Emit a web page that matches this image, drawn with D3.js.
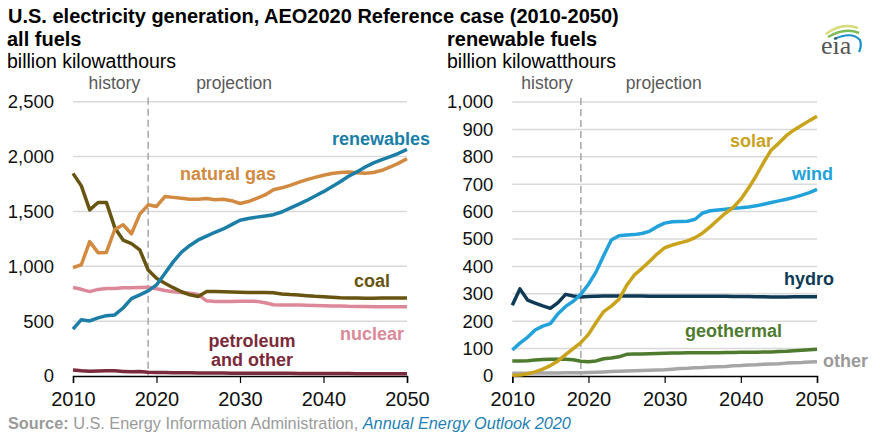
<!DOCTYPE html>
<html><head><meta charset="utf-8">
<script src="https://cdn.jsdelivr.net/npm/d3@7"></script>
<style>
html,body{margin:0;padding:0;background:#fff;}
svg{display:block;font-family:"Liberation Sans",Arial,sans-serif;}
</style></head>
<body><svg id="c" width="880" height="434"></svg>
<script>
const years = [2010,2011,2012,2013,2014,2015,2016,2017,2018,2019,2020,2021,2022,2023,2024,2025,2026,2027,2028,2029,2030,2031,2032,2033,2034,2035,2036,2037,2038,2039,2040,2041,2042,2043,2044,2045,2046,2047,2048,2049,2050];
// all fuels (billion kWh)
const naturalGas = [988,1014,1225,1124,1126,1335,1379,1296,1475,1560,1545,1635,1628,1620,1610,1612,1618,1606,1610,1598,1572,1590,1618,1650,1698,1715,1738,1765,1790,1810,1830,1845,1855,1860,1852,1848,1855,1875,1905,1940,1980];
const renewables = [427,513,502,530,550,557,620,705,740,776,830,935,1040,1130,1190,1240,1275,1310,1340,1380,1420,1435,1448,1458,1470,1495,1530,1565,1600,1640,1680,1725,1770,1820,1860,1905,1942,1972,2000,2030,2065];
const coal = [1847,1733,1514,1581,1582,1352,1239,1206,1149,966,890,845,805,768,740,725,770,770,768,766,764,762,760,762,758,748,742,738,732,726,722,718,714,712,710,708,708,712,712,712,712];
const nuclear = [807,790,769,789,797,797,805,805,807,809,795,780,768,762,755,742,685,680,680,680,682,682,680,668,650,648,648,648,645,642,640,638,638,635,634,633,632,632,632,632,632];
const petroleum = [55,48,44,46,48,47,42,38,40,34,32,31,30,30,29,28,28,27,27,26,26,25,25,25,24,24,24,23,23,23,22,22,22,22,21,21,21,21,20,20,20];
// renewable fuels (billion kWh)
const solar = [3,4,8,15,25,38,55,78,100,122,152,195,235,255,280,330,368,392,418,445,468,478,486,493,505,522,545,570,595,615,645,685,730,780,825,850,878,898,915,932,948];
const wind = [95,120,141,168,182,191,227,254,273,298,335,380,440,496,512,515,516,520,528,545,558,563,564,565,572,595,603,606,609,612,614,617,621,627,633,639,645,652,660,669,681];
const hydro = [258,318,277,266,256,247,268,298,292,288,290,291,292,292,292,292,292,292,291,291,291,291,291,291,291,291,291,291,291,290,290,290,289,289,288,288,288,289,289,289,289];
const geothermal = [55,55,56,58,60,61,61,61,59,54,52,55,63,66,70,79,80,80,81,82,83,84,84,85,85,85,85,85,86,86,87,87,87,88,88,89,90,92,94,96,98];
const other = [10,10,10,11,11,11,11,12,12,12,13,14,15,16,17,18,19,20,21,22,23,25,27,28,30,31,33,34,35,37,38,40,41,43,44,45,47,48,49,51,52];
const leftTicks = [0,500,1000,1500,2000,2500];
const rightTicks = [0,100,200,300,400,500,600,700,800,900,1000];
const xTicks = [2010,2020,2030,2040,2050];
const historyEnd = 2019;

const svg = d3.select("#c");
const FONT = '"Liberation Sans",Arial,sans-serif';

// titles
svg.append("text").attr("x",8).attr("y",23).attr("font-size",20).attr("font-weight","bold").attr("fill","#000")
  .text("U.S. electricity generation, AEO2020 Reference case (2010-2050)");
function sub(x, t1, t2){
  svg.append("text").attr("x",x).attr("y",46).attr("font-size",20).attr("font-weight","bold").text(t1);
  svg.append("text").attr("x",x).attr("y",68).attr("font-size",19.5).text(t2);
}
sub(7,"all fuels","billion kilowatthours");
sub(447,"renewable fuels","billion kilowatthours");

function panel(cfg){
  const x = d3.scaleLinear().domain([2010,2050]).range([cfg.x0,cfg.x1]);
  const y = d3.scaleLinear().domain([0,cfg.ymax]).range([376,cfg.ytop]);
  const g = svg.append("g");
  // grid
  g.selectAll("line.grid").data(cfg.ticks.filter(d=>d>0)).join("line")
    .attr("x1",cfg.x0).attr("x2",cfg.x1).attr("y1",d=>y(d)).attr("y2",d=>y(d))
    .attr("stroke","#d9d9d9").attr("stroke-width",1.5);
  // y axis labels
  const ya = g.append("g").attr("transform",`translate(${cfg.x0},0)`)
    .call(d3.axisLeft(y).tickValues(cfg.ticks).tickSize(0).tickPadding(cfg.pad).tickFormat(d3.format(",")));
  ya.select(".domain").remove();
  ya.selectAll("text").attr("font-size",18.5).attr("fill","#111").attr("font-family",FONT);
  // x axis
  const xa = g.append("g").attr("transform","translate(0,376)")
    .call(d3.axisBottom(x).tickValues(xTicks).tickSize(7).tickPadding(9).tickFormat(d3.format("d")));
  xa.select(".domain").attr("stroke","#000").attr("stroke-width",1.5);
  xa.selectAll(".tick line").attr("stroke","#000").attr("stroke-width",1.2);
  xa.selectAll("text").attr("font-size",20).attr("fill","#111").attr("font-family",FONT);
  // history/projection divider
  g.append("line").attr("x1",x(historyEnd)).attr("x2",x(historyEnd)).attr("y1",cfg.ytop-4).attr("y2",376)
    .attr("stroke","#a6a6a6").attr("stroke-width",1.5).attr("stroke-dasharray","7,4");
  g.append("text").attr("x",x(historyEnd)-8).attr("y",89).attr("text-anchor","end").attr("font-size",17.5).attr("fill","#595959").text("history");
  g.append("text").attr("x",x(historyEnd)+cfg.projOff).attr("y",89).attr("font-size",17.5).attr("fill","#595959").text("projection");
  const line = d3.line().x((d,i)=>x(years[i])).y(d=>y(d));
  cfg.series.forEach(s=>{
    g.append("path").datum(s.values).attr("d",line).attr("fill","none")
      .attr("stroke",s.color).attr("stroke-width",3.5).attr("stroke-linejoin","round").attr("stroke-linecap","butt");
  });
  cfg.series.forEach(s=>{
    s.label.forEach((t,k)=>{
      g.append("text").attr("x",s.lx).attr("y",s.ly+k*19).attr("text-anchor",s.anchor||"start")
        .attr("font-size",18).attr("font-weight","bold").attr("fill",s.tcolor||s.color).text(t);
    });
  });
}

panel({x0:73,x1:407,ytop:101.7,ymax:2500,ticks:leftTicks,pad:19,projOff:48,series:[
  {values:petroleum,color:"#7a2a3a",label:["petroleum","and other"],lx:252,ly:347,anchor:"middle"},
  {values:nuclear,color:"#dc8898",label:["nuclear"],lx:404,ly:340,anchor:"end"},
  {values:coal,color:"#665410",label:["coal"],lx:390,ly:287,anchor:"end"},
  {values:naturalGas,color:"#d18a40",label:["natural gas"],lx:180,ly:180},
  {values:renewables,color:"#1b7ea7",label:["renewables"],lx:430,ly:145,anchor:"end"}
]});
panel({x0:512.3,x1:817,ytop:102,ymax:1000,ticks:rightTicks,pad:19,projOff:45,series:[
  {values:other,color:"#a6a6a6",label:["other"],lx:823,ly:367,tcolor:"#9a9a9a"},
  {values:geothermal,color:"#4f7b2f",label:["geothermal"],lx:685,ly:337},
  {values:hydro,color:"#0e3a56",label:["hydro"],lx:834,ly:285,anchor:"end"},
  {values:wind,color:"#22a2da",label:["wind"],lx:833,ly:180,anchor:"end"},
  {values:solar,color:"#c9a31c",label:["solar"],lx:773,ly:147,anchor:"end"}
]});

// source
const src = svg.append("text").attr("x",8).attr("y",429).attr("font-size",16.3).attr("fill","#9a9a9a");
src.append("tspan").attr("font-weight","bold").text("Source:");
src.append("tspan").text(" U.S. Energy Information Administration, ");
src.append("tspan").attr("font-style","italic").attr("fill","#1f7fb3").text("Annual Energy Outlook 2020");

// eia logo
const lg = svg.append("g");
lg.append("path").attr("d","M826,34 Q842,22 858,28").attr("fill","none").attr("stroke","#d6dc7a").attr("stroke-width",2.5);
lg.append("path").attr("d","M828,37 Q845,27 859,33").attr("fill","none").attr("stroke","#7cbb55").attr("stroke-width",2.5);
lg.append("path").attr("d","M834,39 Q852,31 860,40 Q862,46 859,52").attr("fill","none").attr("stroke","#1a8fc9").attr("stroke-width",2.2);
lg.append("text").attr("x",821).attr("y",54).attr("font-family",'"Liberation Serif","DejaVu Serif",serif').attr("font-size",26).attr("fill","#555").text("eia");
</script></body></html>
